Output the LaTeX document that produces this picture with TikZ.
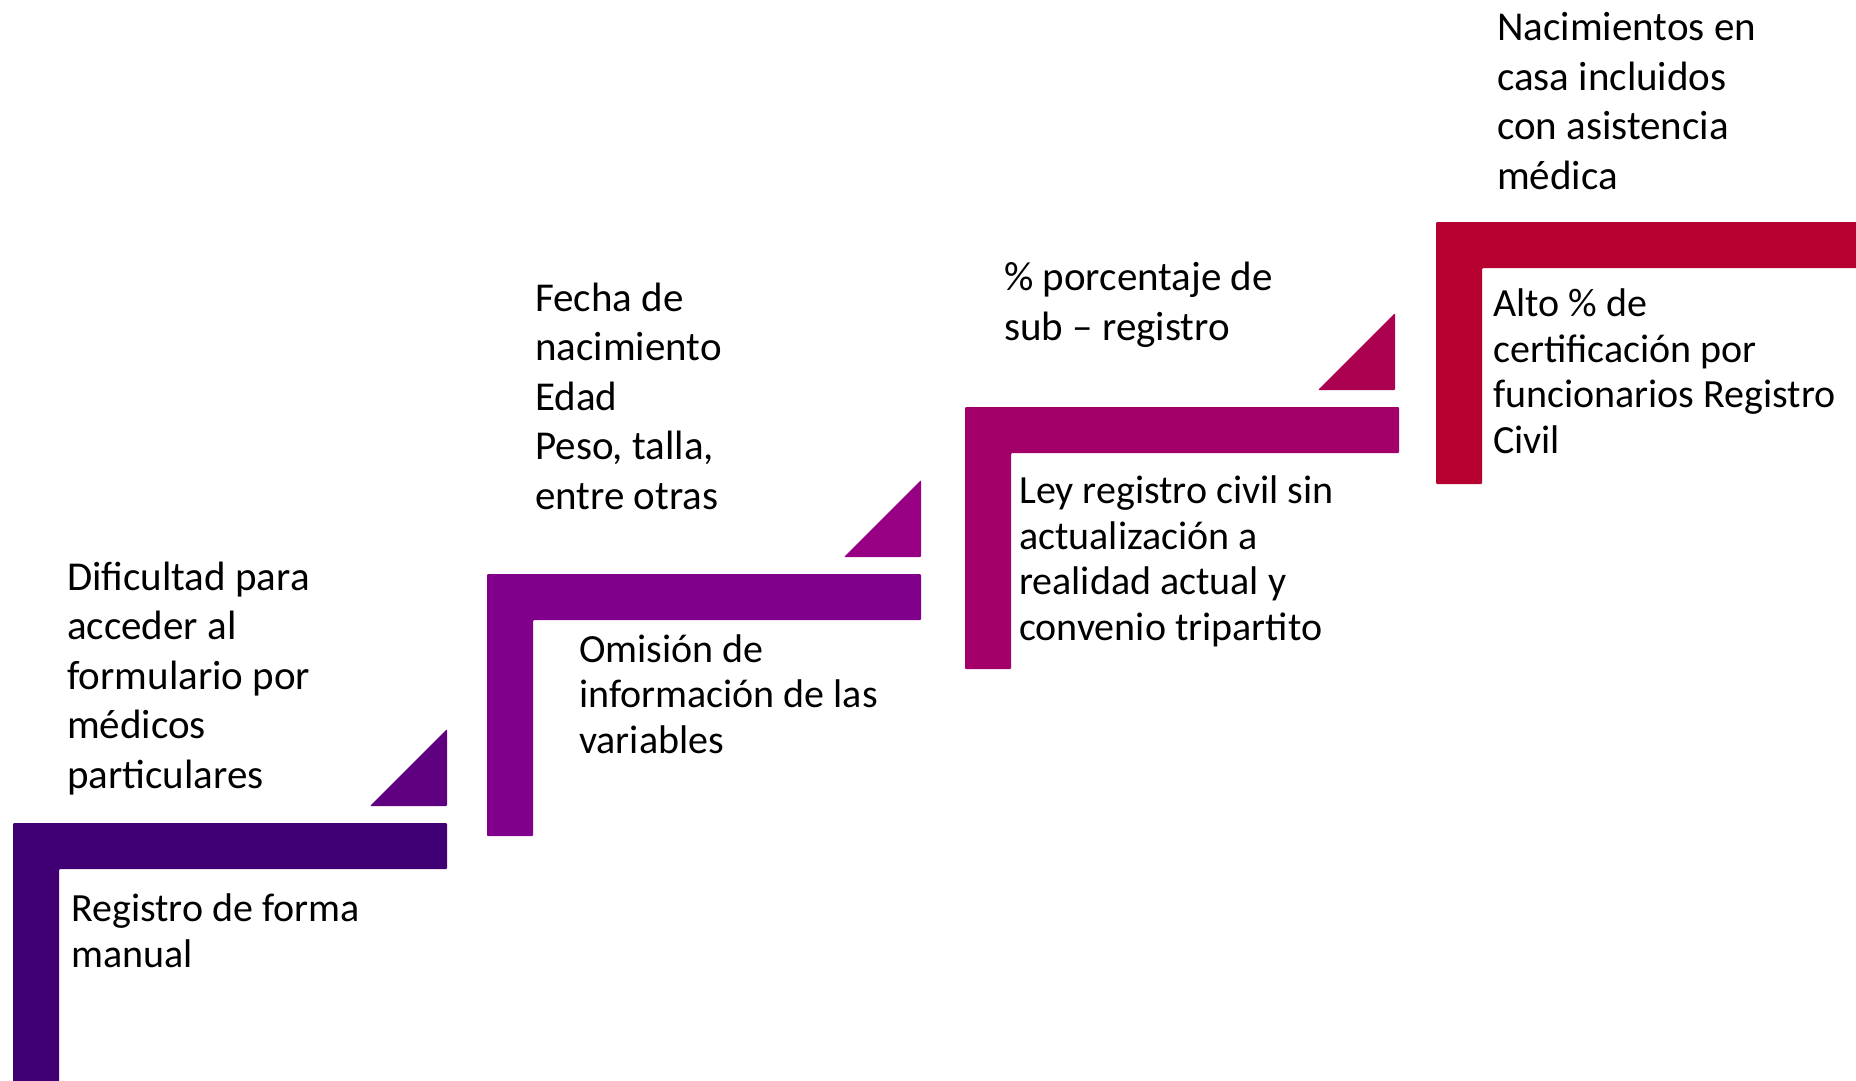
\documentclass[tikz,border=0pt]{standalone}
\usepackage{fontspec}
\setmainfont{Carlito}
\usepackage{tikz}
\definecolor{bar1}{HTML}{400074}
\definecolor{tri1}{HTML}{5E0080}
\definecolor{bar2}{HTML}{80008C}
\definecolor{tri2}{HTML}{980084}
\definecolor{bar3}{HTML}{A20068}
\definecolor{tri3}{HTML}{AC0050}
\definecolor{bar4}{HTML}{B50030}
\tikzstyle{upper}=[anchor=base west,inner sep=0pt,align=left,font=\fontsize{41}{49.4}\selectfont]
\tikzstyle{lower}=[anchor=base west,inner sep=0pt,align=left,font=\fontsize{40}{45.5}\selectfont]

\begin{document}
\begin{tikzpicture}[x=1pt,y=-1pt]
    \useasboundingbox (0,0) rectangle (1856,1080);
    \clip (0,0) rectangle (1856,1080);
    \foreach \i/\x/\y in {1/13/823, 2/487/574, 3/965/407, 4/1436/222} {
        \fill[bar\i,rounded corners=1pt] (\x,\y) -- ++(434,0) -- ++(0,46) -- ++(-388,0) -- ++(0,216) -- ++(-46,0) -- cycle;
    };
    \foreach \i/\x/\y in {1/447/806, 2/921/557, 3/1395/390} {
        \fill[tri\i,rounded corners=1pt] (\x,\y) -- ++(-77,0) -- ++(77,-77) -- cycle;
    };
    % anchors sit on the last baseline
    \node[upper] (1 upper) at (67,788) {Dificultad para\\acceder al\\formulario por\\médicos\\particulares};
    \node[lower] (1 lower) at (71,967) {Registro de forma\\manual};
    \node[upper] (2 upper) at (535,509) {Fecha de\\nacimiento\\Edad\\Peso, talla,\\entre otras};
    \node[lower] (2 lower) at (579,753) {Omisión de\\información de las\\variables};
    \node[upper] (3 upper) at (1004,340) {\% porcentaje de\\sub – registro};
    \node[lower] (3 lower) at (1019,640) {Ley registro civil sin\\actualización a\\realidad actual y\\convenio tripartito};
    \node[upper] (4 upper) at (1497,189) {Nacimientos en\\casa incluidos\\con asistencia\\médica};
    \node[lower] (4 lower) at (1493,453) {Alto \% de\\certificación por\\funcionarios Registro\\Civil};
\end{tikzpicture}
\end{document}
